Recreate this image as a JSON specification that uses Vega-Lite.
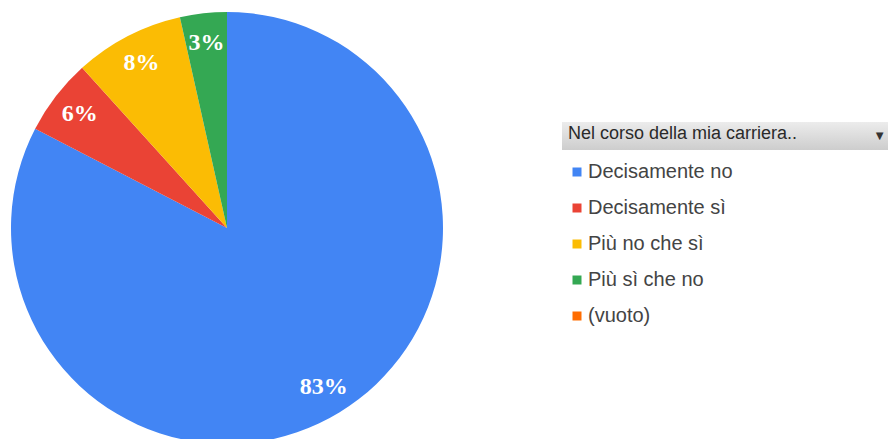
{
  "$schema": "https://vega.github.io/schema/vega-lite/v6.json",
  "padding": 0,
  "bounds": "flush",
  "spacing": 108,
  "config": {"view": {"stroke": null}},
  "datasets": {
    "risposte": [
      {"risposta": "Decisamente no", "valore": 82.6, "etichetta": "83%"},
      {"risposta": "Decisamente sì", "valore": 5.7, "etichetta": "6%"},
      {"risposta": "Più no che sì", "valore": 8.2, "etichetta": "8%"},
      {"risposta": "Più sì che no", "valore": 3.5, "etichetta": "3%"},
      {"risposta": "(vuoto)", "valore": 0, "etichetta": ""}
    ],
    "intestazione": [{"testo": "Nel corso della mia carriera..", "freccia": "▼"}]
  },
  "hconcat": [
    {
      "width": 454,
      "height": 456,
      "data": {"name": "risposte"},
      "layer": [
        {
          "mark": {"type": "arc", "outerRadius": 216},
          "encoding": {
            "theta": {"field": "valore", "type": "quantitative", "stack": true},
            "order": {"field": "risposta", "type": "nominal"},
            "color": {
              "field": "risposta",
              "type": "nominal",
              "scale": {
                "domain": ["Decisamente no", "Decisamente sì", "Più no che sì", "Più sì che no", "(vuoto)"],
                "range": ["#4285F4", "#EA4335", "#FBBC04", "#34A853", "#FF6D01"]
              },
              "legend": {
                "title": null,
                "orient": "none",
                "legendX": 567,
                "legendY": 162,
                "padding": 0,
                "symbolType": "square",
                "symbolSize": 81,
                "symbolStrokeWidth": 0,
                "labelFont": "Liberation Sans",
                "labelFontSize": 20,
                "labelColor": "#444444",
                "labelOffset": 1,
                "rowPadding": 16,
                "labelLimit": 300
              }
            }
          }
        },
        {
          "mark": {
            "type": "text",
            "radius": 186,
            "fill": "white",
            "font": "Liberation Serif",
            "fontSize": 24,
            "fontWeight": "bold"
          },
          "encoding": {
            "theta": {"field": "valore", "type": "quantitative", "stack": true},
            "order": {"field": "risposta", "type": "nominal"},
            "detail": {"field": "risposta", "type": "nominal"},
            "text": {"field": "etichetta", "type": "nominal"}
          }
        }
      ]
    },
    {
      "spacing": 0,
      "bounds": "flush",
      "vconcat": [
        {
          "width": 326,
          "height": 122,
          "data": {"name": "intestazione"},
          "mark": {"type": "rect", "opacity": 0},
          "encoding": {}
        },
        {
          "width": 326,
          "height": 28,
          "data": {"name": "intestazione"},
          "title": {
            "text": "Nel  corso della mia  carriera..",
            "orient": "top",
            "anchor": "start",
            "offset": -21,
            "dx": 6,
            "font": "Liberation Sans",
            "fontSize": 18,
            "fontWeight": "normal",
            "color": "#2a2a2a"
          },
          "layer": [
            {
              "mark": {
                "type": "rect",
                "color": {
                  "gradient": "linear",
                  "x1": 0, "y1": 0, "x2": 0, "y2": 1,
                  "stops": [
                    {"offset": 0, "color": "#ececec"},
                    {"offset": 1, "color": "#cdcdcd"}
                  ]
                }
              },
              "encoding": {}
            },
            {
              "mark": {"type": "text", "align": "right", "dx": -2, "fontSize": 13, "color": "#333333"},
              "encoding": {
                "x": {"value": "width"},
                "text": {"field": "freccia", "type": "nominal"}
              }
            }
          ]
        }
      ]
    }
  ]
}
